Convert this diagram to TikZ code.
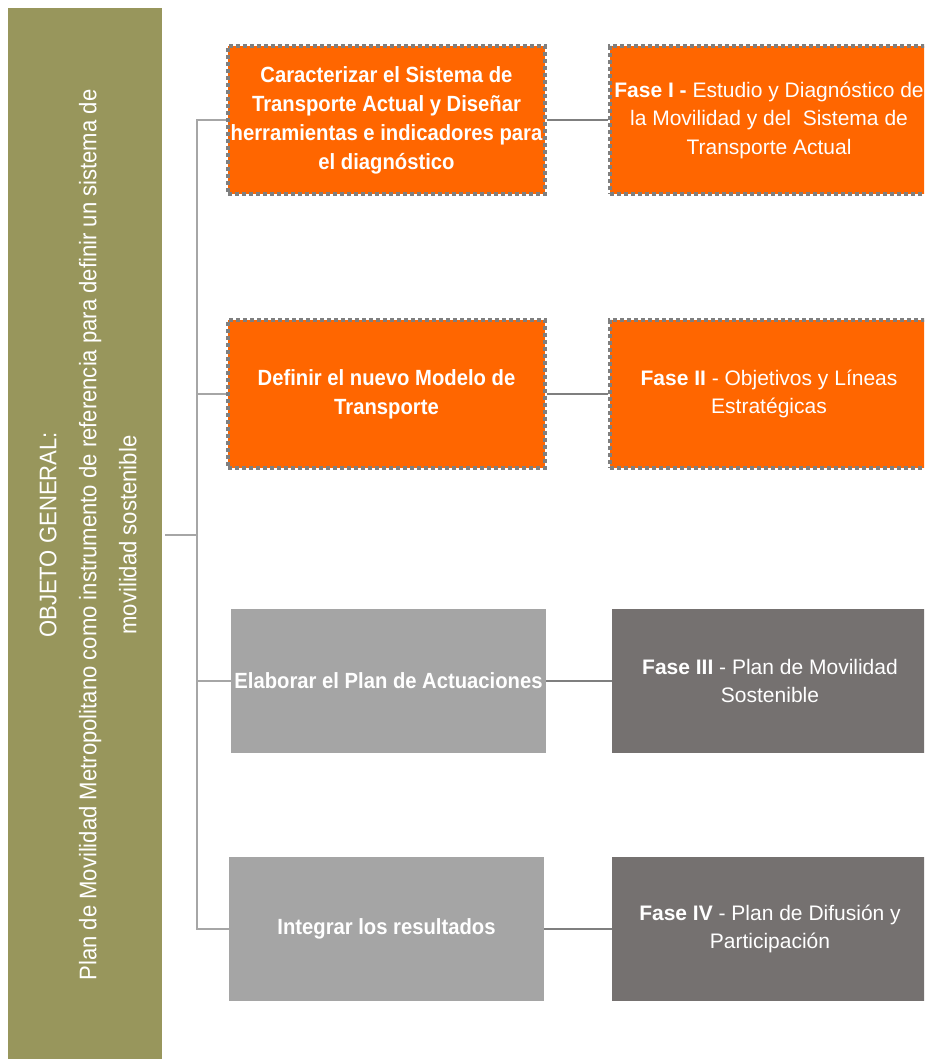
\documentclass[tikz,border=0pt]{standalone}
\usepackage{fontspec}
\setmainfont{Liberation Sans}
\newfontfamily\cond{Liberation Sans}[FakeStretch=0.92]
\definecolor{oliva}{HTML}{98965C}
\definecolor{naranja}{HTML}{FF6600}
\definecolor{grisclaro}{HTML}{A5A5A5}
\definecolor{grisoscuro}{HTML}{757170}
\definecolor{borde}{HTML}{7F7F7F}
\definecolor{ramal}{HTML}{A6A6A6}

\begin{document}
\begin{tikzpicture}[x=1pt,y=-1pt,
    tarea/.style={minimum width=317pt,minimum height=148pt,inner sep=0pt,align=center,
      text=white,font=\cond\bfseries\fontsize{22}{29}\selectfont},
    fase/.style={minimum width=318pt,minimum height=148pt,inner sep=0pt,align=center,
      text=white,font=\fontsize{21}{28.5}\selectfont},
    punteado/.style={fill=naranja,draw=borde,line width=4.5pt,dash pattern=on 4pt off 3pt},
    rama/.style={draw=ramal,line width=2.5pt},
    enlace/.style={draw=borde,line width=2.5pt}]
    \useasboundingbox (0,0) rectangle (924,1059);
    \clip (0,0) rectangle (924,1059);

    \node [fill=oliva,minimum width=154pt,minimum height=1054pt,inner sep=0pt] (objeto) at (85,535){};
    \node [rotate=90,text=white,align=center,font=\cond\fontsize{24}{40}\selectfont] (objtxt) at (88,535)
      {OBJETO GENERAL:\\Plan de Movilidad Metropolitano como instrumento de referencia para definir un sistema de\\movilidad sostenible};

    \node [tarea,punteado] (c1) at (386.5,120){Caracterizar el Sistema de\\Transporte Actual y Diseñar\\herramientas e indicadores para\\el diagnóstico};
    \node [tarea,punteado] (c2) at (386.5,394){Definir el nuevo Modelo de\\Transporte};
    \node [tarea,fill=grisclaro,minimum width=315pt,minimum height=144pt] (e3) at (388.5,681){Elaborar el Plan de Actuaciones};
    \node [tarea,fill=grisclaro,minimum width=315pt,minimum height=144pt] (i4) at (386.5,929){Integrar los resultados};

    \node [fase,punteado] (f1) at (769,120){\textbf{Fase I -} Estudio y Diagnóstico de\\la Movilidad y del~ Sistema de\\Transporte Actual};
    \node [fase,punteado] (f2) at (769,394){\textbf{Fase II} - Objetivos y Líneas\\Estratégicas};
    \node [fase,fill=grisoscuro,minimum width=316pt,minimum height=144pt] (f3) at (770,681){\textbf{Fase III} - Plan de Movilidad\\Sostenible};
    \node [fase,fill=grisoscuro,minimum width=316pt,minimum height=144pt] (f4) at (770,929){\textbf{Fase IV} - Plan de Difusión y\\Participación};

    \coordinate (eje) at (197,535);
    \draw [rama] ([xshift=3pt]objeto.east) -- (eje);
    \draw [rama] (c1.west) -| (eje);
    \draw [rama] (c2.west) -| (eje);
    \draw [rama] (e3.west) -| (eje);
    \draw [rama] (i4.west) -| (eje);

    \draw [enlace] (c1) -- (f1);
    \draw [enlace] (c2) -- (f2);
    \draw [enlace] (e3) -- (f3);
    \draw [enlace] (i4) -- (f4);
\end{tikzpicture}
\end{document}
